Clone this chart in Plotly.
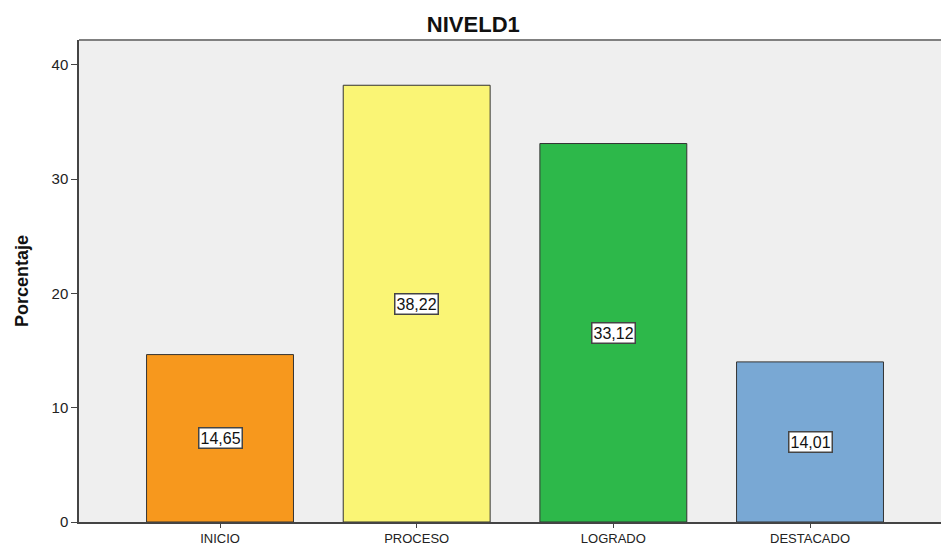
import plotly.graph_objects as go

categories = ["INICIO", "PROCESO", "LOGRADO", "DESTACADO"]
values = [14.65, 38.22, 33.12, 14.01]
value_labels = ["14,65", "38,22", "33,12", "14,01"]
colors = ["#F7981D", "#FAF575", "#2DB84A", "#79A8D4"]
y_ticks = [0, 10, 20, 30, 40]

x_pos = list(range(len(categories)))

fig = go.Figure()
fig.add_trace(go.Bar(
    x=x_pos, y=values, width=0.747,
    marker=dict(color=colors, line=dict(color="#333333", width=1)),
    hoverinfo="skip",
))

for xp, v, lab in zip(x_pos, values, value_labels):
    fig.add_annotation(
        x=xp, y=v / 2, text=lab, showarrow=False,
        font=dict(family="Liberation Sans, Arial", size=16, color="#111111"),
        bgcolor="white", bordercolor="#444444", borderwidth=1.5, borderpad=1,
    )

fig.add_annotation(
    xref="paper", yref="paper", x=0, y=0.5, xshift=-57, xanchor="center", yanchor="middle",
    text="<b>Porcentaje</b>", textangle=-90, showarrow=False,
    font=dict(family="Liberation Sans, Arial", size=18, color="#111111"),
)

fig.update_layout(
    width=941, height=546,
    margin=dict(l=79, r=0, t=40, b=24),
    paper_bgcolor="white", plot_bgcolor="#EFEFEF",
    showlegend=False,
    title=dict(text="<b>NIVELD1</b>", x=0.503, xref="container", xanchor="center",
               y=1 - 24 / 546, yref="container", yanchor="middle",
               font=dict(family="Liberation Sans, Arial", size=22, color="#111111")),
    xaxis=dict(
        range=[-0.717, 3.666], tickmode="array", tickvals=x_pos, ticktext=categories,
        showgrid=False, zeroline=False, showline=True, linecolor="#444444", linewidth=1.5,
        mirror=False, ticks="outside", ticklen=4, tickcolor="#444444", automargin=False,
        tickfont=dict(family="Liberation Sans, Arial", size=13, color="#222222"),
    ),
    yaxis=dict(
        range=[0, 42.18], tickmode="array", tickvals=y_ticks, automargin=False,
        showgrid=False, zeroline=False, showline=True, linecolor="#444444", linewidth=1.5,
        ticks="outside", ticklen=6, tickcolor="#444444",
        tickfont=dict(family="Liberation Sans, Arial", size=15, color="#222222"),
    ),
    shapes=[dict(type="line", xref="paper", yref="paper", x0=0, x1=1, y0=1, y1=1,
                 line=dict(color="#808080", width=2))],
)

fig.write_html("out.html")
